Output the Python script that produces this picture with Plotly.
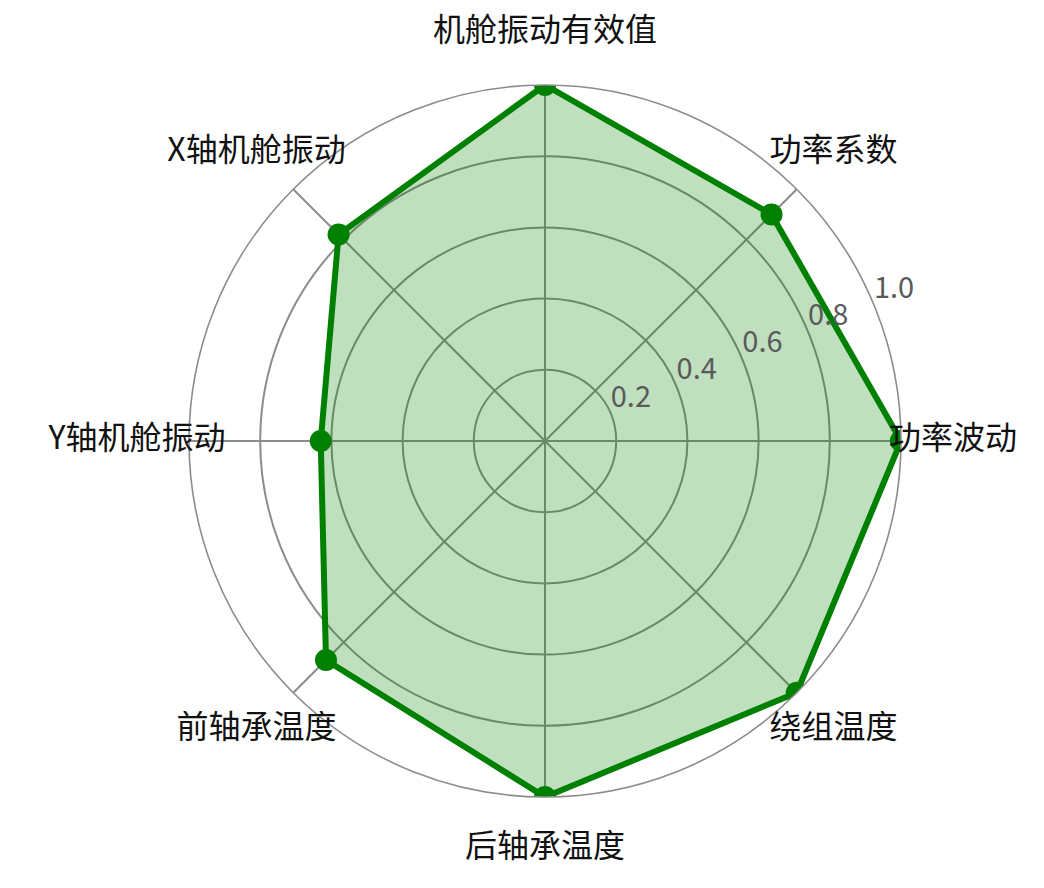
import plotly.graph_objects as go

categories = ["功率波动", "功率系数", "机舱振动有效值", "X轴机舱振动",
              "Y轴机舱振动", "前轴承温度", "后轴承温度", "绕组温度"]
values = [1.0, 0.90, 1.0, 0.82, 0.63, 0.87, 1.0, 1.0]
radial_ticks = [0.2, 0.4, 0.6, 0.8, 1.0]
radial_tick_labels = ["0.2", "0.4", "0.6", "0.8", "1.0"]

n = len(categories)
angles = [i * 360.0 / n for i in range(n)]

FONT = "Noto Sans CJK SC"
GREEN = "#008000"
GRID = "#8c8c8c"

W, H = 1036, 880          # page body has an 8px margin
CX, CY = 537, 433         # centre of the radar (figure px, from top-left)
R_MAIN = 356              # pixel radius of the r=1.0 circle
R_LABEL = 430             # pixel radius of the label layer


def square_domain(r):
    return dict(x=[(CX - r) / W, (CX + r) / W],
                y=[(H - CY - r) / H, (H - CY + r) / H])


fig = go.Figure()

# filled polygon with markers (clipped at outer circle like matplotlib)
fig.add_trace(go.Scatterpolar(
    r=values + values[:1],
    theta=angles + angles[:1],
    mode="lines+markers",
    line=dict(color=GREEN, width=6),
    marker=dict(color=GREEN, size=22),
    fill="toself",
    fillcolor="rgba(0,128,0,0.25)",
    cliponaxis=True,
    hoverinfo="skip",
    showlegend=False,
    subplot="polar",
))

# radial tick labels along 22.5 degrees
fig.add_trace(go.Scatterpolar(
    r=radial_ticks,
    theta=[22.5] * len(radial_ticks),
    mode="text",
    text=radial_tick_labels,
    textposition="top right",
    textfont=dict(family=FONT, size=29, color="#5a5a5a"),
    cliponaxis=False,
    hoverinfo="skip",
    showlegend=False,
    subplot="polar",
))

# category labels, centred outside the circle (on a larger, invisible polar layer)
fig.add_trace(go.Scatterpolar(
    r=[408 / R_LABEL] * n,
    theta=angles,
    mode="text",
    text=categories,
    textposition="middle center",
    textfont=dict(family=FONT, size=32, color="#111111"),
    cliponaxis=False,
    hoverinfo="skip",
    showlegend=False,
    subplot="polar2",
))

fig.update_layout(
    width=W,
    height=H,
    paper_bgcolor="white",
    plot_bgcolor="white",
    margin=dict(l=0, r=0, t=0, b=0),
    showlegend=False,
    polar=dict(
        bgcolor="white",
        domain=square_domain(R_MAIN),
        radialaxis=dict(
            range=[0, 1.0],
            tickvals=radial_ticks,
            showticklabels=False,
            ticks="",
            showline=False,
            showgrid=True,
            gridcolor=GRID,
            gridwidth=1.6,
            angle=22.5,
        ),
        angularaxis=dict(
            tickmode="array",
            tickvals=angles,
            showticklabels=False,
            ticks="",
            direction="counterclockwise",
            rotation=0,
            showline=True,
            linecolor=GRID,
            linewidth=1.6,
            showgrid=True,
            gridcolor=GRID,
            gridwidth=1.6,
        ),
    ),
    polar2=dict(
        bgcolor="rgba(0,0,0,0)",
        domain=square_domain(R_LABEL),
        radialaxis=dict(range=[0, 1.0], visible=False),
        angularaxis=dict(visible=False, direction="counterclockwise", rotation=0),
    ),
)

fig.write_html("out.html")
